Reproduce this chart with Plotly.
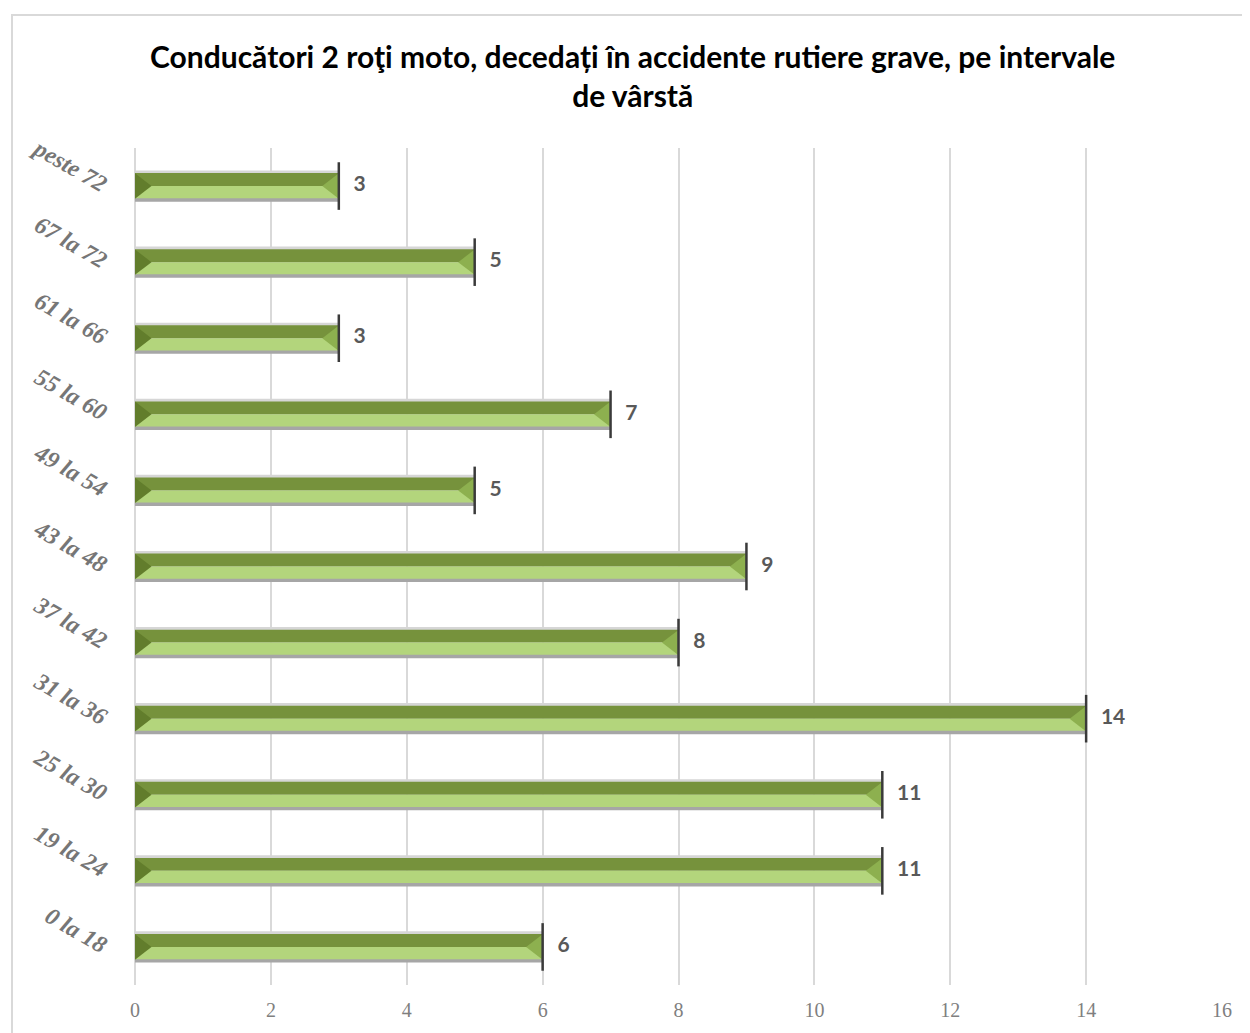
import plotly.graph_objects as go

# ---- data ----
categories = ['0 la 18', '19 la 24', '25 la 30', '31 la 36', '37 la 42', '43 la 48',
              '49 la 54', '55 la 60', '61 la 66', '67 la 72', 'peste 72']
values = [6, 11, 11, 14, 8, 9, 5, 7, 3, 5, 3]
x_ticks = [0, 2, 4, 6, 8, 10, 12, 14, 16]
title_text = "Conducători 2 roţi moto, decedați în accidente rutiere grave, pe intervale<br>de vârstă"

# ---- layout constants (page body has an 8px margin) ----
OFF = 8
W, H = 1250 - OFF, 1033 - OFF
ML, MR, MT, MB = 135 - OFF, 28, 148 - OFF, 42
PX_PER_UNIT = (W - ML - MR) / 16.0
TRI_SIZE = 22
tri_shift = (TRI_SIZE / 4.0) / PX_PER_UNIT

fig = go.Figure()

# outline (bevel frame)
fig.add_trace(go.Bar(y=categories, x=values, orientation='h', width=0.205, offset=-0.205,
                     marker=dict(color='#A6A6A6', line=dict(width=0)), hoverinfo='skip', showlegend=False))
fig.add_trace(go.Bar(y=categories, x=values, orientation='h', width=0.205, offset=0,
                     marker=dict(color='#D6D6D6', line=dict(width=0)), hoverinfo='skip', showlegend=False))
# top dark face
fig.add_trace(go.Bar(y=categories, x=values, orientation='h', width=0.17, offset=0,
                     marker=dict(color='#76923C', line=dict(width=0)), showlegend=False))
# bottom light face
fig.add_trace(go.Bar(y=categories, x=values, orientation='h', width=0.16, offset=-0.16,
                     marker=dict(color='#B3D57C', line=dict(width=0)), hoverinfo='skip', showlegend=False))

# left bevel triangles
fig.add_trace(go.Scatter(y=categories, x=[tri_shift] * len(values), mode='markers',
                         marker=dict(symbol='triangle-right', size=TRI_SIZE, color='#627D2C', line=dict(width=0)),
                         hoverinfo='skip', showlegend=False))
# right bevel triangles
fig.add_trace(go.Scatter(y=categories, x=[v - tri_shift for v in values], mode='markers',
                         marker=dict(symbol='triangle-left', size=TRI_SIZE, color='#8DB04F', line=dict(width=0)),
                         hoverinfo='skip', showlegend=False))
# dark end line
fig.add_trace(go.Scatter(y=categories, x=values, mode='markers',
                         marker=dict(symbol='line-ns-open', size=34, color='#3A3A3A',
                                     line=dict(width=2.5, color='#3A3A3A')),
                         hoverinfo='skip', showlegend=False, cliponaxis=False))
# data labels
fig.add_trace(go.Scatter(y=categories, x=values, mode='markers+text',
                         marker=dict(size=22, color='rgba(0,0,0,0)'),
                         text=[str(v) for v in values], textposition='middle right',
                         textfont=dict(family='Lato', size=21, color='#595959', weight='bold'),
                         hoverinfo='skip', showlegend=False, cliponaxis=False))

fig.update_layout(
    width=W, height=H,
    margin=dict(l=ML, r=MR, t=MT, b=MB),
    paper_bgcolor='white', plot_bgcolor='white',
    barmode='overlay',
    title=dict(text=title_text, x=0.503, xanchor='center', yref='container', y=1 - 60 / H, yanchor='top',
               font=dict(family='Lato', size=30, color='#000000', weight='bold')),
    xaxis=dict(range=[0, 16], tickvals=x_ticks, showgrid=True, gridcolor='#D9D9D9', gridwidth=1.5,
               zeroline=True, zerolinecolor='#D9D9D9', zerolinewidth=1.5, showline=False,
               tickfont=dict(family='Liberation Serif', size=20, color='#7F7F7F'), ticks='',
               ticklabelstandoff=11),
    yaxis=dict(type='category', categoryorder='array', categoryarray=categories, range=[-0.5, 10.5],
               showgrid=False, zeroline=False, showline=False, ticks='', tickangle=30,
               ticklabelstandoff=27,
               tickfont=dict(family='Liberation Serif', size=24, color='#767676', weight='bold', style='italic')),
    shapes=[dict(type='rect', xref='paper', yref='paper',
                 x0=(12 - OFF - ML) / (W - ML - MR), x1=(1249 - ML) / (W - ML - MR),
                 y0=-0.2,
                 y1=((H - MB) - (14 - OFF)) / (H - MT - MB),
                 line=dict(color='#D9D9D9', width=2), layer='below')],
)

fig.write_html("out.html")
